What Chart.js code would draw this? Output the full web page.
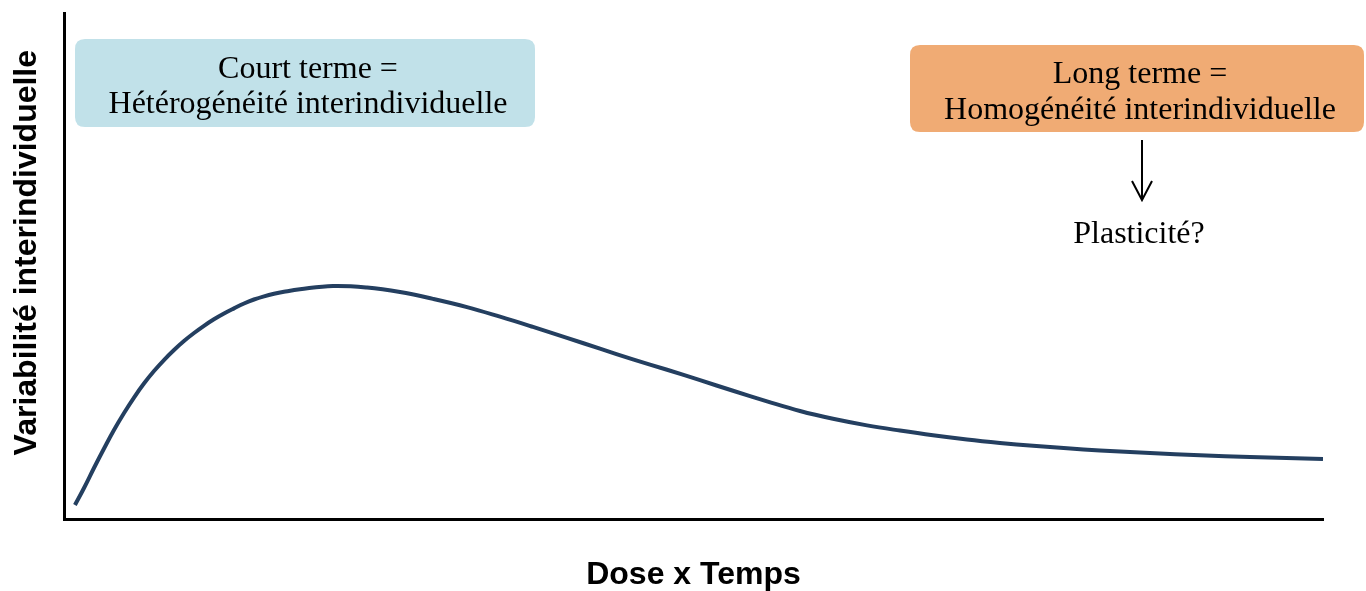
<!DOCTYPE html>
<html>
<head>
<meta charset="utf-8">
<script src="https://cdn.jsdelivr.net/npm/chart.js@4/dist/chart.umd.min.js"></script>
<style>
  html, body { margin: 0; padding: 0; background: #fff; }
  #wrap { width: 1366px; height: 591px; position: relative; }
</style>
</head>
<body>
<div id="wrap"><canvas id="c" width="1366" height="591"></canvas></div>
<script>
// Conceptual curve: "Dose x Temps" (x) vs "Variabilité interindividuelle" (y), arbitrary units 0-100
const doseTemps = [0.87, 1.59, 2.38, 3.18, 3.97, 4.77, 5.56, 6.35, 7.15, 7.94, 8.74, 9.53, 10.33, 11.12, 11.91, 12.71, 13.50, 14.30, 15.09, 15.89, 16.68, 17.47, 18.74, 21.37, 24.07, 26.69, 29.31, 32.01, 34.63, 37.25, 39.95, 42.57, 45.19, 47.90, 50.52, 53.14, 55.84, 58.46, 61.08, 63.78, 66.40, 69.02, 71.72, 74.34, 76.97, 79.67, 82.29, 86.26, 90.23, 94.20, 100];
const variabilite = [2.77, 6.13, 10.08, 13.93, 17.59, 20.95, 24.01, 26.78, 29.25, 31.42, 33.40, 35.18, 36.76, 38.18, 39.47, 40.61, 41.62, 42.59, 43.38, 44.01, 44.51, 44.90, 45.40, 46.05, 45.75, 44.86, 43.50, 41.88, 39.98, 37.96, 35.81, 33.66, 31.56, 29.49, 27.43, 25.34, 23.26, 21.34, 19.80, 18.50, 17.47, 16.54, 15.71, 15.04, 14.47, 13.97, 13.56, 13.02, 12.61, 12.23, 11.86];
const xTitle = "Dose x Temps";
const yTitle = "Variabilité interindividuelle";
const boxShort = ["Court terme =", "Hétérogénéité interindividuelle"];
const boxLong = ["Long terme =", "Homogénéité interindividuelle"];
const noteText = "Plasticité?";

const points = doseTemps.map((x, i) => ({ x: x, y: variabilite[i] }));

function roundRect(ctx, x, y, w, h, r) {
  ctx.beginPath();
  ctx.moveTo(x + r, y);
  ctx.lineTo(x + w - r, y);
  ctx.quadraticCurveTo(x + w, y, x + w, y + r);
  ctx.lineTo(x + w, y + h - r);
  ctx.quadraticCurveTo(x + w, y + h, x + w - r, y + h);
  ctx.lineTo(x + r, y + h);
  ctx.quadraticCurveTo(x, y + h, x, y + h - r);
  ctx.lineTo(x, y + r);
  ctx.quadraticCurveTo(x, y, x + r, y);
  ctx.closePath();
}

const annotations = {
  id: 'annotations',
  afterDraw(chart) {
    const ctx = chart.ctx;
    ctx.save();
    // Blue box
    ctx.fillStyle = '#C1E1E9';
    roundRect(ctx, 75, 39, 460, 88, 10);
    ctx.fill();
    // Orange box
    ctx.fillStyle = '#F0AB74';
    roundRect(ctx, 910, 45, 454, 87, 10);
    ctx.fill();

    ctx.fillStyle = '#000';
    ctx.textAlign = 'center';
    ctx.textBaseline = 'alphabetic';
    ctx.font = '32px "Liberation Serif", "Times New Roman", serif';
    ctx.fillText(boxShort[0], 308, 78);
    ctx.fillText(boxShort[1], 308, 113);
    ctx.fillText(boxLong[0], 1140, 83);
    ctx.fillText(boxLong[1], 1140, 119);
    ctx.fillText(noteText, 1139, 243);

    // Arrow
    ctx.strokeStyle = '#000';
    ctx.lineWidth = 2;
    ctx.beginPath();
    ctx.moveTo(1142, 140);
    ctx.lineTo(1142, 200);
    ctx.moveTo(1132, 181);
    ctx.lineTo(1142, 200);
    ctx.lineTo(1152, 181);
    ctx.stroke();
    ctx.restore();
  }
};

new Chart(document.getElementById('c'), {
  type: 'line',
  data: {
    datasets: [{
      data: points,
      borderColor: '#243F60',
      borderWidth: 4,
      pointRadius: 0,
      fill: false,
      tension: 0.4
    }]
  },
  options: {
    responsive: false,
    animation: false,
    events: [],
    layout: { padding: { left: 11, right: 43, top: 13, bottom: 0 } },
    plugins: { legend: { display: false }, tooltip: { enabled: false } },
    scales: {
      x: {
        type: 'linear',
        min: 0, max: 100,
        grid: { display: false, drawTicks: false },
        border: { display: true, color: '#000', width: 3 },
        ticks: { display: false },
        title: {
          display: true, text: xTitle, color: '#000',
          font: { family: '"Liberation Sans", Arial, sans-serif', size: 32, weight: 'bold', lineHeight: 1 },
          padding: { top: 40, bottom: 0 }
        }
      },
      y: {
        type: 'linear',
        min: 0, max: 100,
        grid: { display: false, drawTicks: false },
        border: { display: true, color: '#000', width: 3 },
        ticks: { display: false },
        title: {
          display: true, text: '   ' + yTitle, color: '#000',
          font: { family: '"Liberation Sans", Arial, sans-serif', size: 32, weight: 'bold', lineHeight: 1 },
          padding: { top: 0, bottom: 21 }
        }
      }
    }
  },
  plugins: [annotations]
});
</script>
</body>
</html>
